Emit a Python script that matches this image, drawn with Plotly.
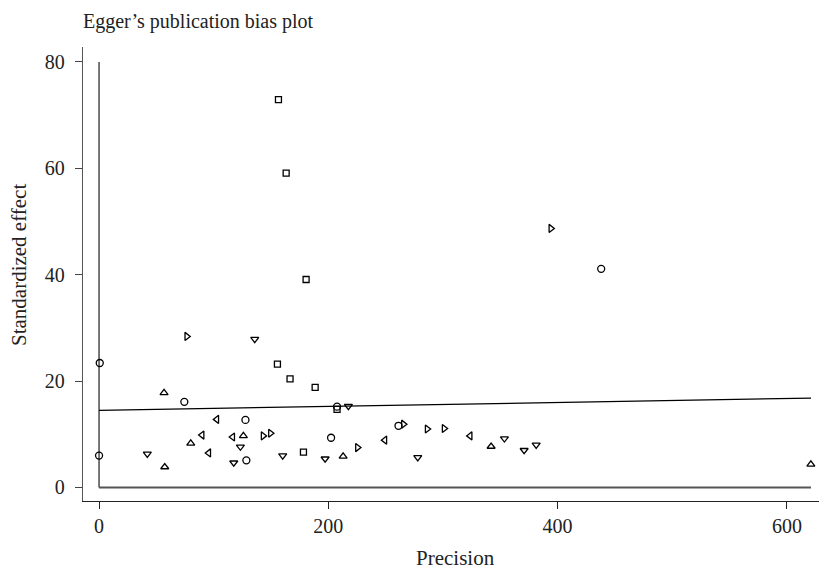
import plotly.graph_objects as go

# ---- data ----
sq_precision = [156.5, 163.2, 180.6, 155.6, 166.6, 188.5, 207.6, 178.3]
sq_effect = [72.9, 59.1, 39.1, 23.2, 20.4, 18.8, 14.7, 6.66]

precision = [0.6, 0.0, 76.5, 135.8, 56.7, 74.4, 207.6, 217.5, 102.7, 127.7,
             89.9, 80.0, 116.6, 125.9, 123.3, 143.1, 149.5, 95.7, 42.1, 57.3,
             117.5, 128.5, 160.2, 197.2, 202.4, 212.9, 225.4, 249.3, 261.2, 265.5,
             278.0, 286.2, 301.0, 323.7, 342.0, 353.6, 370.8, 381.3, 620.9, 394.1,
             438.0]
effect = [23.4, 6.0, 28.4, 27.9, 17.8, 16.1, 15.2, 15.3, 12.8, 12.7,
          9.85, 8.3, 9.5, 9.7, 7.65, 9.7, 10.2, 6.5, 6.3, 3.85,
          4.65, 5.1, 6.0, 5.4, 9.35, 5.85, 7.5, 8.9, 11.6, 11.9,
          5.67, 11.0, 11.1, 9.7, 7.7, 9.2, 7.0, 8.0, 4.35, 48.7,
          41.1]
# marker style per study (o=circle, d=down, u=up, l=left, r=right)
shape_code = ["o", "o", "r", "d", "u", "o", "o", "d", "l", "o",
              "l", "u", "l", "u", "d", "r", "r", "l", "d", "u",
              "d", "o", "d", "d", "o", "u", "r", "l", "o", "r",
              "d", "r", "r", "l", "u", "d", "d", "d", "u", "r",
              "o"]

reg_intercept = 14.5
reg_slope = 0.0037
max_precision = 621.0
y_ref_top = 80

x_ticks = [0, 200, 400, 600]
y_ticks = [0, 20, 40, 60, 80]

sym_map = {"o": "circle-open", "d": "triangle-down-open", "u": "triangle-up-open",
           "l": "triangle-left-open", "r": "triangle-right-open"}

FONT = "Liberation Serif"
TXT = "#222222"

fig = go.Figure()

# reference lines
fig.add_trace(go.Scatter(x=[0, 0], y=[0, y_ref_top], mode="lines",
                         line=dict(color="#555555", width=1.6), showlegend=False, hoverinfo="skip"))
fig.add_trace(go.Scatter(x=[0, max_precision], y=[0, 0], mode="lines",
                         line=dict(color="#555555", width=1.8), showlegend=False, hoverinfo="skip"))
# regression line
fig.add_trace(go.Scatter(x=[0, max_precision],
                         y=[reg_intercept, reg_intercept + reg_slope * max_precision],
                         mode="lines", line=dict(color="black", width=1.2),
                         showlegend=False, hoverinfo="skip"))

fig.add_trace(go.Scatter(x=precision, y=effect, mode="markers",
                         marker=dict(symbol=[sym_map[c] for c in shape_code], size=7,
                                     color="black", line=dict(color="black", width=1.3)),
                         showlegend=False))
fig.add_trace(go.Scatter(x=sq_precision, y=sq_effect, mode="markers",
                         marker=dict(symbol="square-open", size=6,
                                     color="black", line=dict(color="black", width=1.3)),
                         showlegend=False))

fig.update_layout(
    width=819, height=570,
    margin=dict(l=83, r=0, t=47, b=69),
    paper_bgcolor="white", plot_bgcolor="white",
    font=dict(family=FONT, size=20, color=TXT),
    xaxis=dict(range=[-14, 628], tickvals=x_ticks, showgrid=False, zeroline=False,
               showline=True, linecolor="#222222", linewidth=1.2,
               ticks="outside", ticklen=7, tickcolor="#222222", tickwidth=1.2,
               tickfont=dict(family=FONT, size=20, color=TXT)),
    yaxis=dict(range=[-2.54, 82.8], tickvals=y_ticks, showgrid=False, zeroline=False,
               showline=True, linecolor="#555555", linewidth=1.4,
               ticks="outside", ticklen=7, tickcolor="#444444", tickwidth=1.2,
               ticklabelstandoff=6,
               tickfont=dict(family=FONT, size=20, color=TXT)),
    annotations=[
        dict(text="Egger\u2019s publication bias plot", xref="paper", yref="paper",
             x=-0.0027, y=(501 - 22) / 454, xanchor="left", yanchor="middle",
             showarrow=False, font=dict(family=FONT, size=20, color=TXT)),
        dict(text="Precision", xref="paper", yref="paper",
             x=(456 - 83) / 736, y=(501 - 558) / 454, xanchor="center", yanchor="middle",
             showarrow=False, font=dict(family=FONT, size=21, color=TXT)),
        dict(text="Standardized effect", xref="paper", yref="paper",
             x=(19 - 83) / 736, y=(501 - 265) / 454, xanchor="center", yanchor="middle",
             textangle=-90, showarrow=False, font=dict(family=FONT, size=21, color=TXT)),
    ],
)

fig.write_html("out.html")
